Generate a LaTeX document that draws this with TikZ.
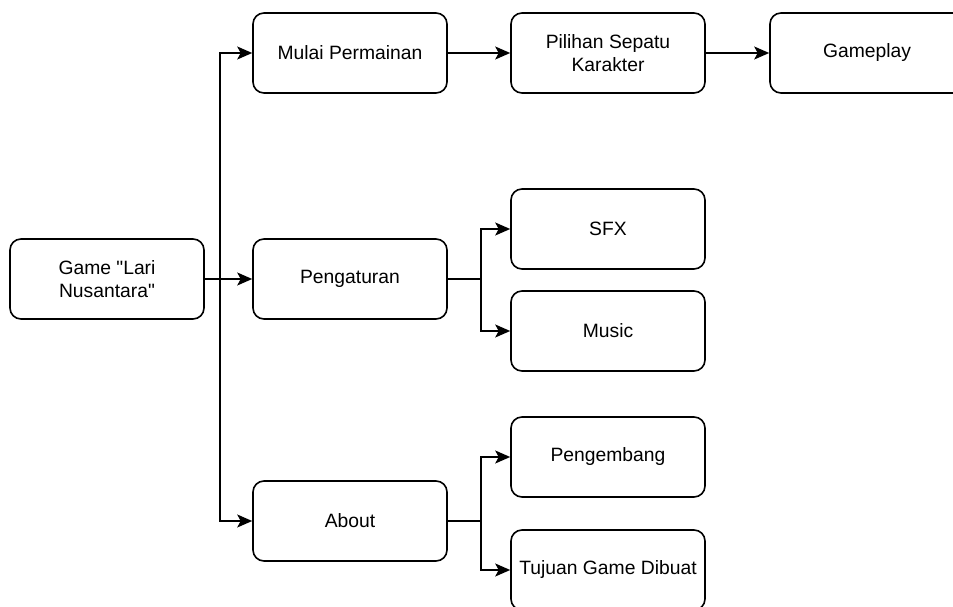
\documentclass[tikz,border=0pt]{standalone}
\usepackage{fontspec}
\setmainfont{Liberation Sans}
\usetikzlibrary{arrows.meta}

\begin{document}
\begin{tikzpicture}[x=1pt,y=-1pt,>={Stealth[length=15pt,width=13pt,inset=3.5pt]},
  menu/.style={draw,line width=1.6pt,rounded corners=11pt,fill=white,align=center,
    minimum width=194pt,minimum height=80pt,inner sep=2pt,font=\fontsize{19.3}{23}\selectfont},
  link/.style={->,line width=1.6pt}]
\useasboundingbox (0,0) rectangle (953,607);
\node[menu] (G) at (107,279) {Game \textquotedbl Lari\\Nusantara\textquotedbl};
\node[menu] (M) at (350,53) {Mulai Permainan};
\node[menu] (K) at (608,53) {Pilihan Sepatu\\Karakter};
\node[menu] (GP) at (867,53) {Gameplay};
\node[menu] (P) at (350,279) {Pengaturan};
\node[menu] (S) at (608,229) {SFX};
\node[menu] (MU) at (608,331) {Music};
\node[menu] (A) at (350,521) {About};
\node[menu] (D) at (608,457) {Pengembang};
\node[menu] (T) at (608,570) {Tujuan Game Dibuat};
\draw[link] (G.east) -- ++(15,0) |- (M.west);
\draw[link] (G.east) -- (P.west);
\draw[link] (G.east) -- ++(15,0) |- (A.west);
\draw[link] (M) -- (K);
\draw[link] (K) -- (GP);
\draw[link] (P.east) -- ++(33,0) |- (S.west);
\draw[link] (P.east) -- ++(33,0) |- (MU.west);
\draw[link] (A.east) -- ++(33,0) |- (D.west);
\draw[link] (A.east) -- ++(33,0) |- (T.west);
\end{tikzpicture}
\end{document}
